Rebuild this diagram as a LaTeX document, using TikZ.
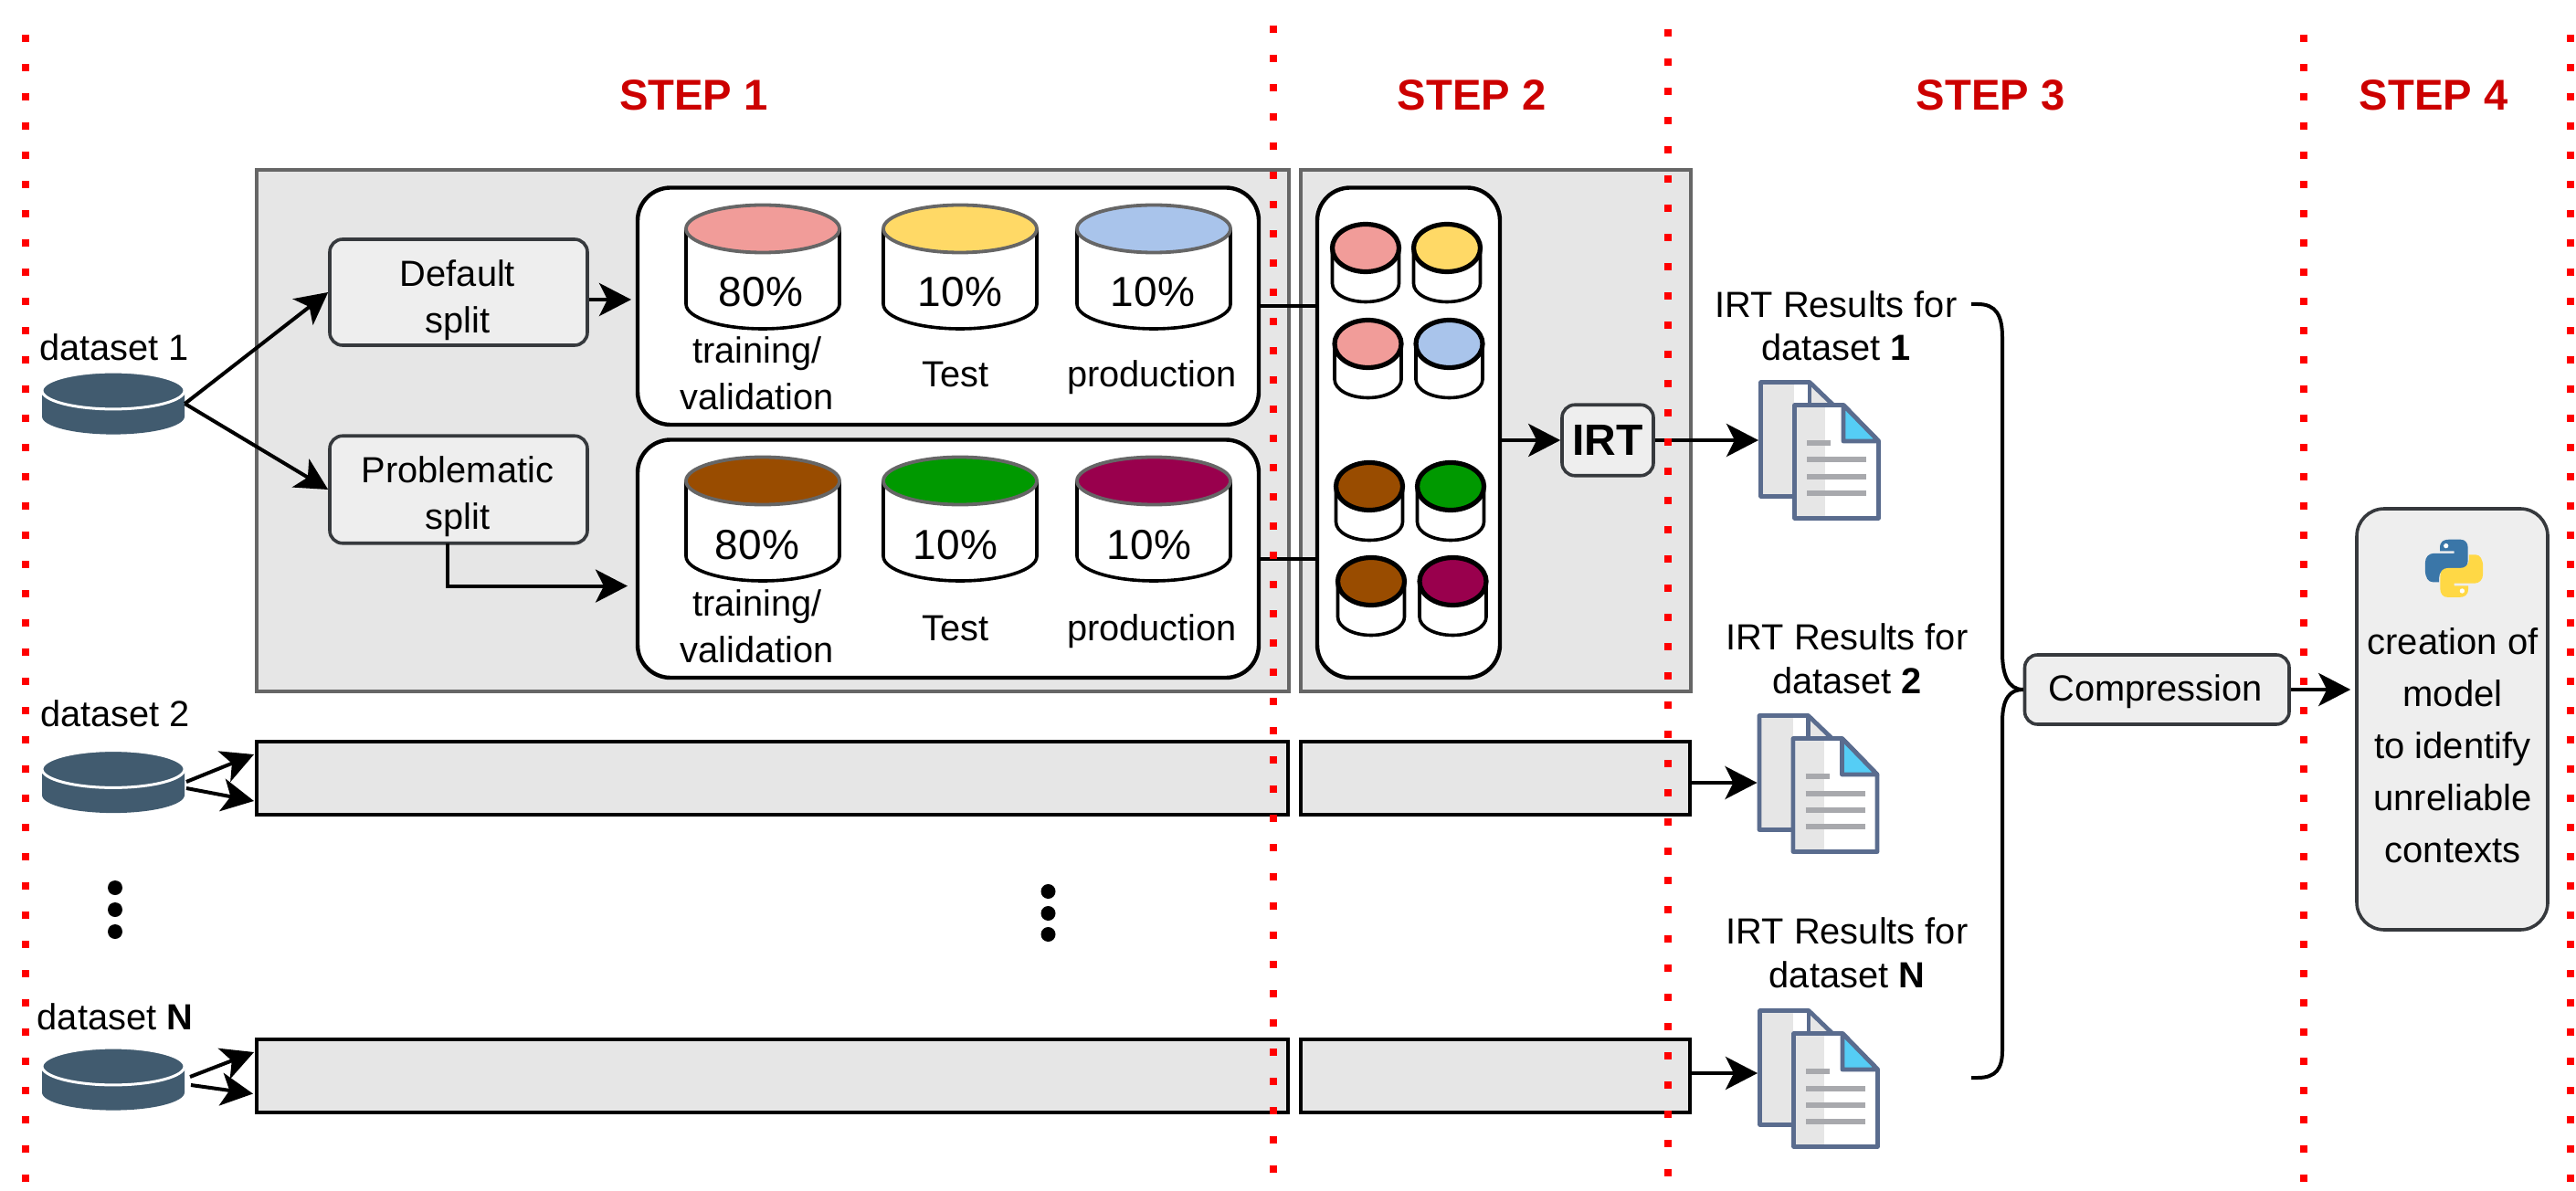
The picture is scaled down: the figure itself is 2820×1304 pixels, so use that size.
\documentclass[tikz,border=0pt]{standalone}
\usepackage{fontspec}
\usepackage{tikz}
\usetikzlibrary{arrows.meta}
\setmainfont{Liberation Sans}

\definecolor{boxgrey}{HTML}{E6E6E6}
\definecolor{boxedge}{HTML}{666666}
\definecolor{softfill}{HTML}{EEEEEE}
\definecolor{softedge}{HTML}{36393D}
\definecolor{diskblue}{HTML}{415B6F}
\definecolor{docedge}{HTML}{5A6C8E}
\definecolor{docbar}{HTML}{A8A9AD}
\definecolor{docfold}{HTML}{55CDF5}
\definecolor{pink}{HTML}{F19C99}
\definecolor{sand}{HTML}{FFD966}
\definecolor{sky}{HTML}{A9C4EB}
\definecolor{brown}{HTML}{994C00}
\definecolor{leaf}{HTML}{009900}
\definecolor{wine}{HTML}{99004D}
\definecolor{stepred}{HTML}{CC0000}
\definecolor{pyblue}{HTML}{3A76A8}
\definecolor{pyyellow}{HTML}{FFD845}

\tikzset{
	arr/.style={line width=2pt, -{Stealth[length=17.5pt,width=18pt,inset=4.5pt]}},
	stepbox/.style={draw=boxedge, fill=boxgrey, line width=2pt, inner sep=0pt},
	rowbox/.style={draw=black, fill=boxgrey, line width=2pt, inner sep=0pt},
	softbox/.style={draw=softedge, fill=softfill, line width=1.8pt, rounded corners=7pt, inner sep=0pt},
	holder/.style={draw=black, fill=white, line width=2.2pt, rounded corners=18pt, inner sep=0pt},
	lbl/.style={font=\fontsize{19.9}{25.5}\selectfont, align=center, inner sep=0pt, anchor=base},
	reslbl/.style={font=\fontsize{19.9}{23.6}\selectfont, align=center, inner sep=0pt, anchor=base},
	pct/.style={font=\fontsize{23}{27}\selectfont, inner sep=0pt, anchor=base},
	steplbl/.style={font=\fontsize{23.6}{27}\selectfont\bfseries, text=stepred, inner sep=0pt, anchor=base},
	reddots/.style={draw=red, line width=4pt, dash pattern=on 4pt off 12pt},
	blackdot/.style={fill=black, circle, minimum size=8pt, inner sep=0pt},
}

% centre x, top y, colour
\newcommand{\bigcyl}[3]{
	\draw[fill=white, line width=1.8pt] (#1-84,#2+28) -- (#1-84,#2+111)
		arc[start angle=180, end angle=360, x radius=42pt, y radius=13.5pt] -- (#1+84,#2+28);
	\draw[fill=#3, draw=boxedge, line width=1.9pt] (#1,#2+28.5) ellipse[x radius=42pt, y radius=13pt];
}
\newcommand{\smallcyl}[3]{
	\draw[fill=white, line width=1.8pt] (#1-36.5,#2+28) -- (#1-36.5,#2+67)
		arc[start angle=180, end angle=360, x radius=18.25pt, y radius=10pt] -- (#1+36.5,#2+28);
	\draw[fill=#3, line width=2.6pt] (#1,#2+28) ellipse[x radius=18.25pt, y radius=13pt];
}
\newcommand{\datadisk}[2]{
	\fill[diskblue] (#1-78,#2+22) -- (#1-78,#2+48)
		arc[start angle=180, end angle=360, x radius=39pt, y radius=9.8pt] -- (#1+78,#2+22) -- cycle;
	\draw[fill=diskblue, draw=white, line width=1.5pt] (#1,#2+19.5) ellipse[x radius=39pt, y radius=10.2pt];
}

\begin{document}
\begin{tikzpicture}[x=0.5pt, y=-0.5pt]
	\useasboundingbox (0,0) rectangle (2820,1304);

	\node[stepbox, minimum width=564.75pt, minimum height=285.5pt] (s1) at (845.75,471.25) {};
	\node[stepbox, minimum width=213.5pt, minimum height=285.5pt] (s2) at (1637.5,471.25) {};
	\node[rowbox, minimum width=564.5pt, minimum height=40pt] (r2a) at (845.5,852) {};
	\node[rowbox, minimum width=213.25pt, minimum height=40pt] (r2b) at (1637,852) {};
	\node[rowbox, minimum width=564.5pt, minimum height=40pt] (rNa) at (845.5,1178) {};
	\node[rowbox, minimum width=213.25pt, minimum height=40pt] (rNb) at (1637,1178) {};

	\node[softbox, minimum width=141pt, minimum height=58pt] (dflt) at (502,320) {};
	\node[lbl] (dflttxt) at (501,365) {Default\\split};
	\node[softbox, minimum width=141pt, minimum height=58.75pt] (prob) at (502,536) {};
	\node[lbl] (probtxt) at (501,580) {Problematic\\split};

	\node[holder, minimum width=340pt, minimum height=129.75pt] (c1) at (1038,335.25) {};
	\node[holder, minimum width=340pt, minimum height=130.25pt] (c2) at (1038,611.75) {};
	\node[holder, minimum width=100pt, minimum height=268.25pt] (mid) at (1542,473.75) {};

	\bigcyl{835}{222}{pink}
	\bigcyl{1051}{222}{sand}
	\bigcyl{1263}{222}{sky}
	\bigcyl{835}{498}{brown}
	\bigcyl{1051}{498}{leaf}
	\bigcyl{1263}{498}{wine}

	\node[pct] (p11) at (833,336) {80\%};
	\node[pct] (p12) at (1051,336) {10\%};
	\node[pct] (p13) at (1262,336) {10\%};
	\node[pct] (p21) at (829,612) {80\%};
	\node[pct] (p22) at (1046,612) {10\%};
	\node[pct] (p23) at (1258,612) {10\%};
	\node[lbl] (t11) at (829,449) {training/\\validation};
	\node[lbl] (t12) at (1046,424) {Test};
	\node[lbl] (t13) at (1261,424) {production};
	\node[lbl] (t21) at (829,725) {training/\\validation};
	\node[lbl] (t22) at (1046,701) {Test};
	\node[lbl] (t23) at (1261,701) {production};

	\smallcyl{1495}{243.5}{pink}
	\smallcyl{1584}{243.5}{sand}
	\smallcyl{1497.5}{348.5}{pink}
	\smallcyl{1586.5}{348.5}{sky}
	\smallcyl{1499}{504.5}{brown}
	\smallcyl{1588}{504.5}{leaf}
	\smallcyl{1501}{608.5}{brown}
	\smallcyl{1590.5}{608.5}{wine}

	\node[softbox, minimum width=50pt, minimum height=38.75pt, font=\fontsize{24}{27}\selectfont\bfseries] (irt) at (1760,482) {IRT};

	\datadisk{124}{408}
	\datadisk{124}{822.5}
	\datadisk{124}{1148}
	\node[minimum width=78pt, minimum height=34pt, inner sep=0pt] (ds1) at (124,442) {};
	\node[minimum width=78pt, minimum height=34pt, inner sep=0pt] (ds2) at (124,856) {};
	\node[minimum width=78pt, minimum height=34pt, inner sep=0pt] (dsN) at (124,1182) {};
	\node[lbl] (ds1txt) at (125,395) {dataset 1};
	\node[lbl] (ds2txt) at (126,795) {dataset 2};
	\node[lbl] (dsNtxt) at (126,1127) {dataset \textbf{N}};

	\foreach \i/\dx/\dy in {1/0/0, 2/-1.5/365, N/-1/688} {
		\begin{scope}[shift={(\dx,\dy)}]
			\fill[white] (1927.5,418.5) -- (1981,418.5) -- (2007,443.5) -- (1964.5,543.5) -- (1927.5,543.5) -- cycle;
			\fill[boxgrey] (1927.5,418.5) rectangle (1964,543.5);
			\fill[boxgrey] (1981,420) -- (2007,443.5) -- (1981,443.5) -- cycle;
			\draw[docedge, line width=2.4pt, line join=round] (1964.5,543.5) -- (1927.5,543.5) -- (1927.5,418.5) -- (1981,418.5) -- (2007,443.5);
			\draw[docedge, line width=2.4pt] (1981,418.5) -- (1981,443.5);
			\draw[docedge, fill=white, line width=2.4pt, line join=round] (1964.5,443.5) -- (2018,443.5) -- (2056.5,483) -- (2056.5,567.5) -- (1964.5,567.5) -- cycle;
			\fill[boxgrey] (1967,446) rectangle (1998,565);
			\draw[docedge, fill=docfold, line width=2.4pt, line join=round] (2018,443.5) -- (2056.5,483) -- (2018,483) -- cycle;
			\draw[docbar, line width=3pt] (1978,485) -- (2004,485);
			\foreach \by in {503.5,522,540}
				\draw[docbar, line width=3pt] (1978,\by) -- (2043,\by);
			\coordinate (doc\i) at (1925,493);
		\end{scope}
	}
	\node[reslbl] (res1) at (2010,395) {IRT Results for\\dataset \textbf{1}};
	\node[reslbl] (res2) at (2022,759) {IRT Results for\\dataset \textbf{2}};
	\node[reslbl] (resN) at (2022,1081) {IRT Results for\\dataset \textbf{N}};

	\node[softbox, minimum width=144.75pt, minimum height=38pt] (compress) at (2361.25,755) {};
	\node[lbl] (comptxt) at (2359.5,767) {Compression};

	\node[softbox, minimum width=104.5pt, minimum height=230.5pt, rounded corners=15pt] (model) at (2684.5,787.5) {};
	\node[lbl, font=\fontsize{20}{28.5}\selectfont] (modeltxt) at (2685,944) {creation of\\model\\to identify\\unreliable\\contexts};
	\foreach \r/\c in {0/pyblue, 180/pyyellow} {
		\begin{scope}[shift={(2686.5,622.3)}, scale=0.3333, rotate=\r]
			\fill[\c] (-46.5,-67) .. controls (-46.5,-88) and (-35,-95) .. (-15,-95) -- (20,-95)
				.. controls (38,-95) and (45.5,-82) .. (45.5,-67) -- (45.5,-25)
				.. controls (45.5,-8) and (35,1) .. (20,1) -- (-20,1)
				.. controls (-38,1) and (-49,13) .. (-49,30) -- (-49,45) -- (-70,45)
				.. controls (-85,45) and (-95,30) .. (-95,5) -- (-95,-18)
				.. controls (-95,-38) and (-82,-49) .. (-68,-49) -- (0,-49) -- (0,-57) -- (-46.5,-57) -- cycle;
			\fill[white] (-26.5,-74) circle[radius=8];
		\end{scope}
	}

	\node[blackdot] (e1) at (126,972) {};
	\node[blackdot] (e2) at (126,996) {};
	\node[blackdot] (e3) at (126,1020) {};
	\node[blackdot] (e4) at (1147.5,976) {};
	\node[blackdot] (e5) at (1147.5,1000) {};
	\node[blackdot] (e6) at (1147.5,1023) {};

	\coordinate (ds2a) at (204,856);
	\coordinate (ds2b) at (204,863);
	\coordinate (r2in1) at (278,826);
	\coordinate (r2in2) at (278,877);
	\coordinate (dsNa) at (208,1179);
	\coordinate (dsNb) at (209,1188);
	\coordinate (rNin1) at (278,1152);
	\coordinate (rNin2) at (277,1197.5);
	\coordinate (c1in) at (691,328);
	\coordinate (c2in) at (687,641.6);
	\coordinate (r2out) at (1851,857);
	\coordinate (rNout) at (1851,1175);

	\draw[arr] (ds1.east) -- (dflt.west);
	\draw[arr] (ds1.east) -- (prob.west);
	\draw[arr] (ds2a) -- (r2in1);
	\draw[arr] (ds2b) -- (r2in2);
	\draw[arr] (dsNa) -- (rNin1);
	\draw[arr] (dsNb) -- (rNin2);
	\draw[arr] (dflt.east |- c1in) -- (c1in);
	\draw[arr] (490,595) -- (490,641.6) -- (c2in);
	\draw[line width=2pt] (c1.east) -- (c1.east -| mid.west);
	\draw[line width=2pt] (c2.east) -- (c2.east -| mid.west);
	\draw[arr] (irt.west -| mid.east) -- (irt.west);
	\draw[arr] (irt.east) -- (irt.east -| doc1);
	\draw[arr] (r2out) -- (r2out -| doc2);
	\draw[arr] (rNout) -- (rNout -| docN);
	\draw[arr, shorten >=2.5pt] (compress.east) -- (compress.east -| model.west);

	\draw[line width=2pt] (2158,333) -- (2165,333) .. controls (2185,333) and (2192,345) .. (2192,370) -- (2192,715)
		.. controls (2192,738) and (2198,755) .. (compress.west);
	\draw[line width=2pt] (compress.west) .. controls (2200,755) and (2192,765) .. (2192,790) -- (2192,1150)
		.. controls (2192,1170) and (2185,1180) .. (2165,1180) -- (2158,1180);

	\node[steplbl] (st1) at (759.5,121) {STEP 1};
	\node[steplbl] (st2) at (1611,121) {STEP 2};
	\node[steplbl] (st3) at (2179,121) {STEP 3};
	\node[steplbl] (st4) at (2664,121) {STEP 4};

	\foreach \lx/\ly in {28/38, 1394/28, 1825.5/32, 2521.5/38, 2814/38}
		\draw[reddots] (\lx,\ly) -- (\lx,1298);
\end{tikzpicture}
\end{document}
